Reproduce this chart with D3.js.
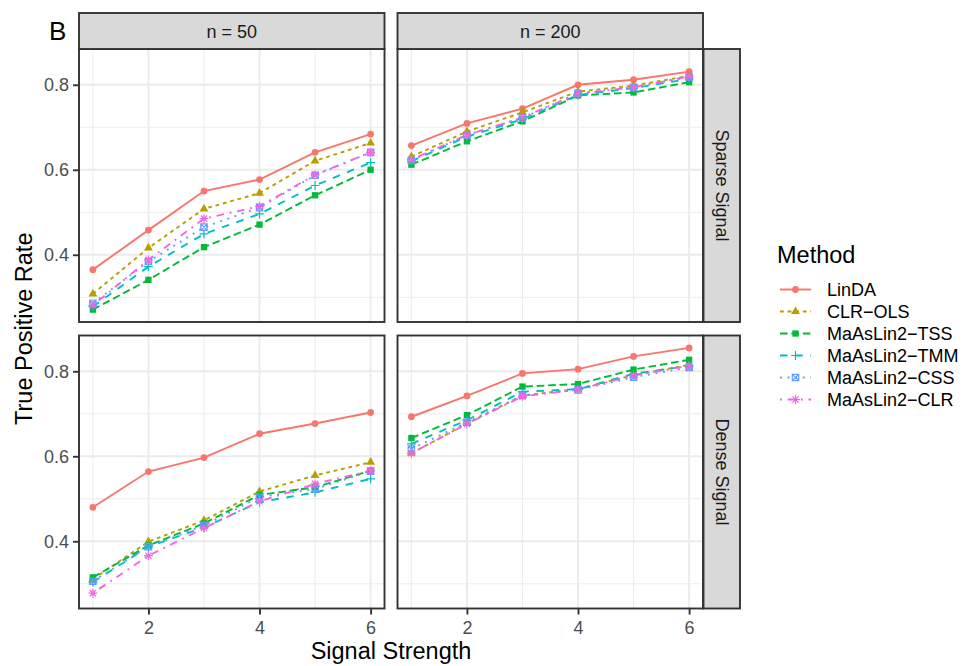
<!DOCTYPE html>
<html><head><meta charset="utf-8">
<script src="https://cdn.jsdelivr.net/npm/d3@7"></script>
<style>body{margin:0;background:#fff}svg{display:block}</style>
</head><body><svg id="c" width="967" height="666"></svg>
<script>
// ---------- data ----------
const methods = ["LinDA","CLR\u2212OLS","MaAsLin2\u2212TSS","MaAsLin2\u2212TMM","MaAsLin2\u2212CSS","MaAsLin2\u2212CLR"];
const strengths = [1,2,3,4,5,6];
const sampleSizes = ["n = 50","n = 200"];
const signalTypes = ["Sparse Signal","Dense Signal"];
const yTicks = [0.4,0.6,0.8];
const yMinorTicks = [0.3,0.5,0.7];
const xTicks = [2,4,6];
const xMinorTicks = [1,3,5];
// rows = methods (in order above), columns = signal strength 1..6
const sparseN50 = [
  [0.365,0.458,0.550,0.577,0.641,0.684],
  [0.308,0.416,0.508,0.545,0.621,0.663],
  [0.271,0.341,0.418,0.471,0.540,0.600],
  [0.278,0.372,0.449,0.496,0.563,0.617],
  [0.286,0.384,0.465,0.511,0.587,0.641],
  [0.281,0.388,0.485,0.514,0.588,0.641]
];
const sparseN200 = [
  [0.657,0.709,0.744,0.800,0.812,0.831],
  [0.631,0.690,0.735,0.784,0.798,0.821],
  [0.612,0.667,0.714,0.775,0.782,0.806],
  [0.620,0.678,0.719,0.776,0.792,0.814],
  [0.622,0.682,0.722,0.780,0.794,0.818],
  [0.624,0.682,0.723,0.779,0.794,0.820]
];
const denseN50 = [
  [0.480,0.564,0.597,0.653,0.677,0.703],
  [0.311,0.399,0.449,0.517,0.555,0.586],
  [0.315,0.390,0.442,0.509,0.527,0.566],
  [0.304,0.387,0.433,0.492,0.515,0.547],
  [0.306,0.387,0.437,0.504,0.523,0.565],
  [0.278,0.366,0.431,0.494,0.535,0.566]
];
const denseN200 = [
  [0.693,0.742,0.795,0.805,0.835,0.855],
  [0.607,0.677,0.743,0.758,0.791,0.815],
  [0.643,0.697,0.764,0.770,0.804,0.827],
  [0.629,0.685,0.752,0.758,0.794,0.813],
  [0.617,0.680,0.743,0.756,0.786,0.809],
  [0.607,0.676,0.741,0.757,0.790,0.813]
];

// ---------- styles ----------
const colors = ["#F8766D","#B79F00","#00BA38","#00BFC4","#619CFF","#F564E3"];
const LW = 1.9;
const dashes = [null,[3.8,3.8],[7.6,3.8],[7.6,7.6],[1.9,5.7],[1.9,5.7,7.6,5.7]];
const shapes = ["circle","triangle","square","plus","squarecross","asterisk"];
const FONT = "'Liberation Sans', Arial, Helvetica, sans-serif";
const SMALL = "18px", BIG = "23.5px";

const svg = d3.select("#c").style("font-family", FONT);
const colL = [79, 397.5], colW = 305.5;
const rowT = [49, 335.5], rowH = 273;

const all = [sparseN50,sparseN200,denseN50,denseN200].flat(2);
const ext = d3.extent(all), pad = (ext[1]-ext[0])*0.05;
const y = d3.scaleLinear().domain([ext[0]-pad, ext[1]+pad]).range([rowH,0]);
const x = d3.scaleLinear().domain([0.75, 6.25]).range([0, colW]);

function shape(g, kind, cx, cy, color){
  const t = `translate(${cx},${cy})`;
  if(kind==="circle") g.append("path").attr("transform",t).attr("d",d3.symbol(d3.symbolCircle,36)()).attr("fill",color);
  else if(kind==="triangle") g.append("path").attr("transform",t).attr("d",d3.symbol(d3.symbolTriangle,34)()).attr("fill",color);
  else if(kind==="square") g.append("path").attr("transform",t).attr("d",d3.symbol(d3.symbolSquare,40)()).attr("fill",color);
  else {
    const p = d3.path(); const a = 4.4, s = 3.2, d = 3.1;
    if(kind==="plus"||kind==="asterisk"){ p.moveTo(-a,0);p.lineTo(a,0);p.moveTo(0,-a);p.lineTo(0,a); }
    if(kind==="asterisk"){ p.moveTo(-d,-d);p.lineTo(d,d);p.moveTo(-d,d);p.lineTo(d,-d); }
    if(kind==="squarecross"){ p.rect(-s,-s,2*s,2*s); p.moveTo(-s,-s);p.lineTo(s,s);p.moveTo(-s,s);p.lineTo(s,-s); }
    g.append("path").attr("transform",t).attr("d",p.toString()).attr("fill","none").attr("stroke",color).attr("stroke-width",1.2);
  }
}

const panels = [
  {data:sparseN50, c:0, r:0},{data:sparseN200, c:1, r:0},
  {data:denseN50, c:0, r:1},{data:denseN200, c:1, r:1}
];
panels.forEach(p=>{
  const g = svg.append("g").attr("transform",`translate(${colL[p.c]},${rowT[p.r]})`);
  g.append("rect").attr("width",colW).attr("height",rowH).attr("fill","#fff");
  yMinorTicks.forEach(v=>g.append("line").attr("x1",0).attr("x2",colW).attr("y1",y(v)).attr("y2",y(v)).attr("stroke","#EBEBEB").attr("stroke-width",0.95));
  xMinorTicks.forEach(v=>g.append("line").attr("y1",0).attr("y2",rowH).attr("x1",x(v)).attr("x2",x(v)).attr("stroke","#EBEBEB").attr("stroke-width",0.95));
  yTicks.forEach(v=>g.append("line").attr("x1",0).attr("x2",colW).attr("y1",y(v)).attr("y2",y(v)).attr("stroke","#EBEBEB").attr("stroke-width",LW));
  xTicks.forEach(v=>g.append("line").attr("y1",0).attr("y2",rowH).attr("x1",x(v)).attr("x2",x(v)).attr("stroke","#EBEBEB").attr("stroke-width",LW));
  const line = d3.line().x((d,i)=>x(strengths[i])).y(d=>y(d));
  p.data.forEach((vals,m)=>{
    g.append("path").attr("d",line(vals)).attr("fill","none").attr("stroke",colors[m])
      .attr("stroke-width",LW).attr("stroke-dasharray",dashes[m]?dashes[m].join(","):null);
  });
  p.data.forEach((vals,m)=>{
    vals.forEach((v,i)=>shape(g, shapes[m], x(strengths[i]), y(v), colors[m]));
  });
  g.append("rect").attr("width",colW).attr("height",rowH).attr("fill","none").attr("stroke","#333333").attr("stroke-width",LW);
  if(p.c===0){
    const ax = g.append("g").call(d3.axisLeft(y).tickValues(yTicks).tickSize(6).tickPadding(4).tickFormat(d3.format(".1f")));
    ax.select(".domain").remove();
    ax.selectAll("line").attr("stroke","#333333").attr("stroke-width",LW);
    ax.selectAll("text").attr("fill","#4D4D4D").style("font-size",SMALL).style("font-family",FONT);
  }
  if(p.r===1){
    const ax = g.append("g").attr("transform",`translate(0,${rowH})`).call(d3.axisBottom(x).tickValues(xTicks).tickSize(6).tickPadding(7).tickFormat(d3.format("d")));
    ax.select(".domain").remove();
    ax.selectAll("line").attr("stroke","#333333").attr("stroke-width",LW);
    ax.selectAll("text").attr("fill","#4D4D4D").style("font-size",SMALL).style("font-family",FONT);
  }
});

sampleSizes.forEach((s,c)=>{
  svg.append("rect").attr("x",colL[c]).attr("y",13).attr("width",colW).attr("height",36)
    .attr("fill","#D9D9D9").attr("stroke","#333333").attr("stroke-width",LW);
  svg.append("text").attr("x",colL[c]+colW/2).attr("y",31.5).attr("text-anchor","middle")
    .attr("dominant-baseline","central").style("font-size",SMALL).attr("fill","#1A1A1A").text(s);
});
signalTypes.forEach((s,r)=>{
  svg.append("rect").attr("x",703.5).attr("y",rowT[r]).attr("width",36.5).attr("height",rowH)
    .attr("fill","#D9D9D9").attr("stroke","#333333").attr("stroke-width",LW);
  svg.append("text").attr("transform",`translate(${721.5},${rowT[r]+rowH/2}) rotate(90)`)
    .attr("text-anchor","middle").attr("dominant-baseline","central").style("font-size",SMALL)
    .attr("fill","#1A1A1A").text(s);
});

svg.append("text").attr("x",(colL[0]+colL[1]+colW)/2).attr("y",658.5).attr("text-anchor","middle")
  .style("font-size",BIG).attr("fill","#000").text("Signal Strength");
svg.append("text").attr("transform",`translate(32,${(rowT[0]+rowT[1]+rowH)/2}) rotate(-90)`)
  .attr("text-anchor","middle").style("font-size",BIG).attr("fill","#000").text("True Positive Rate");
svg.append("text").attr("x",49).attr("y",40).style("font-size","26px").attr("fill","#000").text("B");

svg.append("text").attr("x",777).attr("y",263).style("font-size",BIG).attr("fill","#000").text("Method");
methods.forEach((m,i)=>{
  const cy = 289.5 + i*22;
  const lg = svg.append("g");
  lg.append("line").attr("x1",780).attr("x2",811).attr("y1",cy).attr("y2",cy).attr("stroke",colors[i])
    .attr("stroke-width",LW).attr("stroke-dasharray",dashes[i]?dashes[i].join(","):null);
  shape(lg, shapes[i], 795.5, cy, colors[i]);
  lg.append("text").attr("x",827).attr("y",cy).attr("dominant-baseline","central")
    .style("font-size",SMALL).attr("fill","#000").text(m);
});
</script></body></html>
